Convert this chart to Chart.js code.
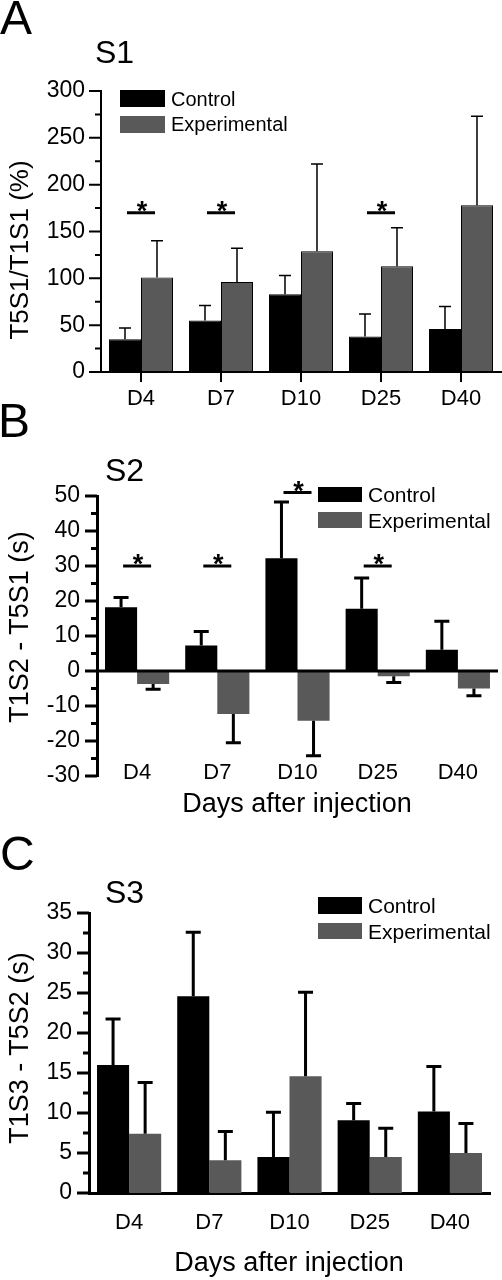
<!DOCTYPE html>
<html>
<head>
<meta charset="utf-8">
<script src="https://cdn.jsdelivr.net/npm/chart.js@4.4.1/dist/chart.umd.min.js"></script>
<style>
  body { margin: 0; background: #fff; }
  #fig { position: relative; width: 502px; height: 1280px; overflow: hidden;
         font-family: "Liberation Sans", Arial, sans-serif; color: #000; }
  #fig canvas { position: absolute; left: 0; }
  .txt { position: absolute; white-space: nowrap; line-height: 1; }
  .mid { transform: translateX(-50%); }
  .ytitle { position: absolute; white-space: nowrap; line-height: 1;
            transform: translate(-50%, -50%) rotate(-90deg); }
  .key { position: absolute; }
</style>
</head>
<body>
<div id="fig">
  <canvas id="chartA" width="502" height="420" style="top:0"></canvas>
  <canvas id="chartB" width="502" height="390" style="top:420px"></canvas>
  <canvas id="chartC" width="502" height="470" style="top:810px"></canvas>

  <!-- panel A -->
  <div class="txt" style="left:0;top:-6px;font-size:48px">A</div>
  <div class="txt" style="left:95px;top:36px;font-size:32px">S1</div>
  <div class="ytitle" style="left:19px;top:250px;font-size:26px">T5S1/T1S1 (%)</div>
  <div class="key" style="left:120px;top:90px;width:45px;height:17px;background:#000"></div>
  <div class="key" style="left:120px;top:116px;width:45px;height:17px;background:#595959"></div>
  <div class="txt" style="left:171px;top:89px;font-size:20px">Control</div>
  <div class="txt" style="left:171px;top:114px;font-size:20px">Experimental</div>

  <!-- panel B -->
  <div class="txt" style="left:-2px;top:397px;font-size:48px">B</div>
  <div class="txt" style="left:105px;top:454px;font-size:32px">S2</div>
  <div class="ytitle" style="left:19px;top:627px;font-size:27px">T1S2 - T5S1 (s)</div>
  <div class="key" style="left:318px;top:487px;width:44px;height:15px;background:#000"></div>
  <div class="key" style="left:318px;top:512px;width:44px;height:16px;background:#595959"></div>
  <div class="txt" style="left:368px;top:484px;font-size:21px">Control</div>
  <div class="txt" style="left:368px;top:510px;font-size:21px">Experimental</div>
  <div class="txt mid" style="left:297px;top:790px;font-size:27px">Days after injection</div>

  <!-- panel C -->
  <div class="txt" style="left:0;top:830px;font-size:48px">C</div>
  <div class="txt" style="left:105px;top:876px;font-size:32px">S3</div>
  <div class="ytitle" style="left:19px;top:1048px;font-size:27px">T1S3 - T5S2 (s)</div>
  <div class="key" style="left:318px;top:897px;width:44px;height:17px;background:#000"></div>
  <div class="key" style="left:318px;top:923px;width:44px;height:16px;background:#595959"></div>
  <div class="txt" style="left:368px;top:895px;font-size:21px">Control</div>
  <div class="txt" style="left:368px;top:921px;font-size:21px">Experimental</div>
  <div class="txt mid" style="left:289px;top:1249px;font-size:27px">Days after injection</div>
</div>

<script>
const categories = ['D4', 'D7', 'D10', 'D25', 'D40'];

// S1: T5S1/T1S1 (%)
const s1Control = [35, 55, 83, 38, 46];
const s1ControlErr = [12, 16, 20, 24, 24];
const s1Experimental = [101, 96, 129, 113, 178];
const s1ExperimentalErr = [39, 36, 93, 41, 95];
const s1SigCats = [0, 1, 3];
const s1SigLevels = [170, 170, 170];

// S2: T1S2 - T5S1 (s)
const s2Control = [18.2, 7.3, 32.2, 17.8, 6.1];
const s2ControlErr = [2.8, 4.0, 16.1, 8.8, 8.1];
const s2Experimental = [-3.7, -12.3, -14.2, -1.5, -5.0];
const s2ExperimentalErr = [1.5, 8.2, 10.0, 1.8, 2.1];
const s2SigCats = [0, 1, 2, 3];
const s2SigLevels = [30, 30, 51, 30];

// S3: T1S3 - T5S2 (s)
const s3Control = [16.0, 24.6, 4.5, 9.1, 10.2];
const s3ControlErr = [5.75, 8.0, 5.6, 2.1, 5.6];
const s3Experimental = [7.4, 4.1, 14.6, 4.5, 5.0];
const s3ExperimentalErr = [6.4, 3.6, 10.5, 3.6, 3.7];

const GREY = '#595959';
Chart.defaults.font.family = '"Liberation Sans", Arial, sans-serif';
Chart.defaults.color = '#000';

// error bars pointing away from zero
function errorBars(errs, lineWidth, capWidth) {
    return {
        id: 'errorBars',
        afterDatasetsDraw(chart) {
            const ctx = chart.ctx;
            const yScale = chart.scales.y;
            ctx.save();
            ctx.strokeStyle = '#000';
            ctx.lineWidth = lineWidth;
            chart.data.datasets.forEach((ds, d) => {
                const meta = chart.getDatasetMeta(d);
                meta.data.forEach((bar, i) => {
                    const v = ds.data[i];
                    const dir = v < 0 ? -1 : 1;
                    const yEnd = yScale.getPixelForValue(v + dir * errs[d][i]);
                    ctx.beginPath();
                    ctx.moveTo(bar.x, bar.y);
                    ctx.lineTo(bar.x, yEnd);
                    ctx.moveTo(bar.x - capWidth / 2, yEnd);
                    ctx.lineTo(bar.x + capWidth / 2, yEnd);
                    ctx.stroke();
                });
            });
            ctx.restore();
        }
    };
}

// significance bars with a star
function sigMarks(cats, levels) {
    return {
        id: 'sigMarks',
        afterDatasetsDraw(chart) {
            const ctx = chart.ctx;
            ctx.save();
            ctx.strokeStyle = '#000';
            ctx.fillStyle = '#000';
            ctx.lineWidth = 3;
            ctx.font = 'bold 27px "Liberation Sans", Arial, sans-serif';
            ctx.textAlign = 'center';
            ctx.textBaseline = 'alphabetic';
            cats.forEach((c, k) => {
                const x = chart.scales.x.getPixelForValue(c);
                const y = chart.scales.y.getPixelForValue(levels[k]);
                ctx.beginPath();
                ctx.moveTo(x - 14, y);
                ctx.lineTo(x + 14, y);
                ctx.stroke();
                ctx.fillText('*', x + 1, y + 7);
            });
            ctx.restore();
        }
    };
}

// outward y ticks with minor ticks, optional x ticks and zero line
function axisTicks(minorStep, lineWidth, xTickLen, zeroLine) {
    return {
        id: 'axisTicks',
        afterDatasetsDraw(chart) {
            const ctx = chart.ctx;
            const y = chart.scales.y;
            const area = chart.chartArea;
            ctx.save();
            ctx.strokeStyle = '#000';
            ctx.lineWidth = lineWidth;
            ctx.beginPath();
            const n = Math.round((y.max - y.min) / minorStep);
            for (let i = 0; i <= n; i++) {
                const py = y.getPixelForValue(y.min + i * minorStep);
                const len = i % 2 === 0 ? 12 : 6;
                ctx.moveTo(area.left - len, py);
                ctx.lineTo(area.left, py);
            }
            if (xTickLen) {
                categories.forEach((c, i) => {
                    const px = chart.scales.x.getPixelForValue(i);
                    ctx.moveTo(px, area.bottom);
                    ctx.lineTo(px, area.bottom + xTickLen);
                });
            }
            if (zeroLine) {
                const p0 = y.getPixelForValue(0);
                ctx.moveTo(area.left, p0);
                ctx.lineTo(area.right, p0);
            }
            ctx.stroke();
            ctx.restore();
        }
    };
}

function barChart(id, sets, o) {
    return new Chart(document.getElementById(id), {
        type: 'bar',
        data: {
            labels: categories,
            datasets: [
                {
                    label: 'Control',
                    data: sets[0],
                    backgroundColor: '#000',
                    borderColor: '#000',
                    borderWidth: o.barBorder,
                    borderSkipped: false,
                    categoryPercentage: 0.8,
                    barPercentage: 1.0
                },
                {
                    label: 'Experimental',
                    data: sets[1],
                    backgroundColor: GREY,
                    borderColor: o.barBorder ? '#000' : GREY,
                    borderWidth: o.barBorder,
                    borderSkipped: false,
                    categoryPercentage: 0.8,
                    barPercentage: 1.0
                }
            ]
        },
        options: {
            responsive: false,
            animation: false,
            events: [],
            layout: { padding: o.padding },
            plugins: {
                legend: { display: false },
                tooltip: { enabled: false }
            },
            scales: {
                x: {
                    type: 'category',
                    grid: { display: false, drawTicks: false },
                    border: { display: o.xBorder, color: '#000', width: o.axisWidth },
                    ticks: { font: { size: 22 }, padding: o.xPad, mirror: o.xMirror, maxRotation: 0 },
                    afterFit: s => { s.height = o.xHeight; }
                },
                y: {
                    min: o.min,
                    max: o.max,
                    grid: { display: false, drawTicks: false },
                    border: { display: true, color: '#000', width: o.axisWidth },
                    ticks: { stepSize: o.step, font: { size: 23 }, padding: o.yPad },
                    afterFit: s => { s.width = o.yWidth; }
                }
            }
        },
        plugins: o.plugins
    });
}

barChart('chartA', [s1Control, s1Experimental], {
    min: 0, max: 300, step: 50,
    padding: { left: 0, right: 1, top: 91, bottom: 0 },
    yWidth: 101, xHeight: 48, xPad: 14, xMirror: false, yPad: 16,
    axisWidth: 2, barBorder: 1, xBorder: true,
    plugins: [
        errorBars([s1ControlErr, s1ExperimentalErr], 1.5, 12),
        sigMarks(s1SigCats, s1SigLevels),
        axisTicks(25, 2, 10, false)
    ]
});

// category labels of S2 sit inside the plot, level with -30
barChart('chartB', [s2Control, s2Experimental], {
    min: -30, max: 50, step: 10,
    padding: { left: 0, right: 4, top: 76, bottom: 0 },
    yWidth: 97, xHeight: 34, xPad: -10, xMirror: true, yPad: 17,
    axisWidth: 3, barBorder: 0, xBorder: false,
    plugins: [
        errorBars([s2ControlErr, s2ExperimentalErr], 3, 15),
        sigMarks(s2SigCats, s2SigLevels),
        axisTicks(5, 3, 0, true)
    ]
});

barChart('chartC', [s3Control, s3Experimental], {
    min: 0, max: 35, step: 5,
    padding: { left: 0, right: 12, top: 103, bottom: 0 },
    yWidth: 89, xHeight: 87, xPad: 17, xMirror: false, yPad: 17,
    axisWidth: 3, barBorder: 0, xBorder: true,
    plugins: [
        errorBars([s3ControlErr, s3ExperimentalErr], 3, 15),
        axisTicks(2.5, 3, 0, false)
    ]
});
</script>
</body>
</html>
